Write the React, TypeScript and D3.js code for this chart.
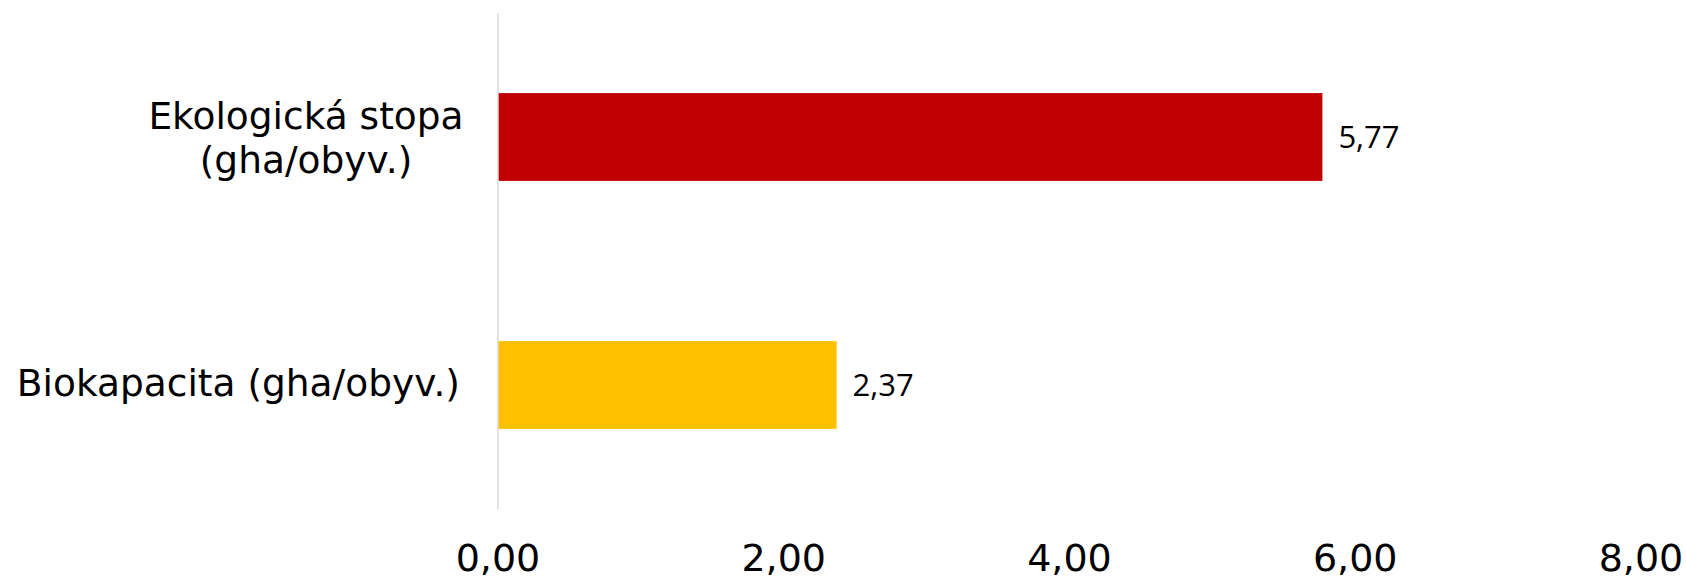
import * as d3 from 'd3';
import React from 'react';

const categories = [['Ekologická stopa', '(gha/obyv.)'], ['Biokapacita (gha/obyv.)']];
const values = [5.77, 2.37];
const barColors = ['#C00000', '#FFC000'];
const xTicks = [0, 2, 4, 6, 8];

const W = 1686, H = 578;
const plot = { left: 498, right: 1641, top: 13, bottom: 509 };

const comma = (v: number) => d3.format('.2f')(v).replace('.', ',');

const App = () => {
  const x = d3.scaleLinear().domain([0, 8]).range([plot.left, plot.right]);
  const y = d3.scaleBand<number>()
    .domain(values.map((_, i) => i))
    .range([plot.top, plot.bottom])
    .paddingInner(0.646)
    .paddingOuter(0.323);

  const labelFont = '"DejaVu Sans", Verdana, sans-serif';
  const valueFont = '"Open Sans", Lato, sans-serif';
  const lineH = 44;

  return (
    <svg width={W} height={H} style={{ position: 'absolute', left: 0, top: 0 }}>
      <rect width={W} height={H} fill="#fff" />
      {/* bars */}
      {values.map((v, i) => (
        <rect key={'b' + i} x={x(0)} y={y(i)} width={x(v) - x(0)} height={y.bandwidth()} fill={barColors[i]} />
      ))}
      {/* vertical axis line */}
      <line x1={x(0)} x2={x(0)} y1={plot.top} y2={plot.bottom} stroke="#d9d9d9" strokeWidth={1.5} />
      {/* value labels */}
      {values.map((v, i) => (
        <text key={'v' + i} x={x(v) + 16} y={(y(i) as number) + y.bandwidth() / 2 + 10.7}
          fontFamily={valueFont} fontSize={31} fill="#000">{comma(v)}</text>
      ))}
      {/* category labels */}
      {categories.map((lines, i) => {
        const cy = (y(i) as number) + y.bandwidth() / 2;
        const base = cy + 10.7 - (lines.length - 1) * 18.7;
        const cx = lines.length > 1 ? 306 : 460;
        return (
          <text key={'c' + i} fontFamily={labelFont} fontSize={37.5} fill="#000"
            textAnchor={lines.length > 1 ? 'middle' : 'end'}>
            {lines.map((l, j) => (
              <tspan key={j} x={cx} y={base + j * lineH}>{l}</tspan>
            ))}
          </text>
        );
      })}
      {/* x tick labels */}
      {xTicks.map(t => (
        <text key={'t' + t} x={x(t)} y={571} textAnchor="middle" fontFamily={labelFont} fontSize={38} fill="#000">
          {comma(t)}
        </text>
      ))}
    </svg>
  );
};

export default App;
